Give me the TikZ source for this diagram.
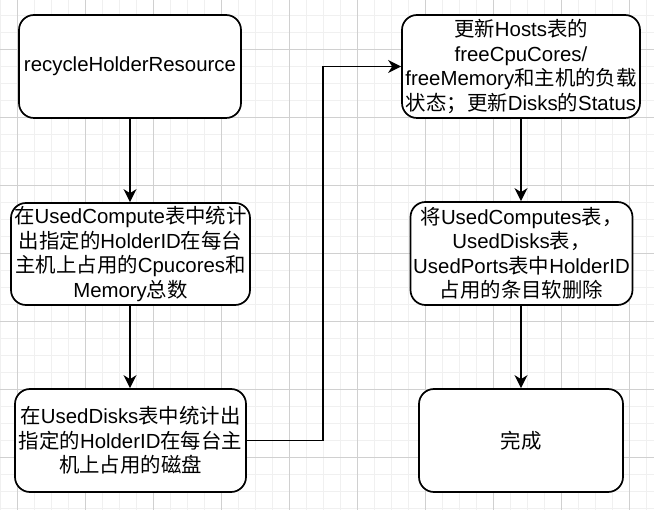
\documentclass[tikz,border=0pt]{standalone}
\usepackage{fontspec}
\setmainfont{Liberation Sans}
\newfontfamily\zh{Noto Sans CJK SC}
\usetikzlibrary{arrows.meta}
\definecolor{gminor}{HTML}{F0F0F0}
\definecolor{gmajor}{HTML}{D0D0D0}
\begin{document}
\begin{tikzpicture}[x=1pt,y=-1pt,
  box/.style={draw=black,line width=1.7pt,rounded corners=15pt,fill=white,
    align=center,inner sep=0pt,minimum height=103pt,
    font=\fontsize{20.4}{24.4}\selectfont},
  arr/.style={draw=black,line width=1.7pt,-{Stealth[length=13pt,width=13pt,inset=4pt]}}]
\useasboundingbox (0,0) rectangle (654,510);
\fill[white] (0,0) rectangle (654,510);
% grid
\foreach \i in {0,...,38} {
  \pgfmathsetmacro{\xx}{0.3+17*\i}
  \draw[gminor,line width=1pt] (\xx,0) -- (\xx,510);
}
\foreach \i in {1,...,30} {
  \pgfmathsetmacro{\yy}{-1.7+17*\i}
  \draw[gminor,line width=1pt] (0,\yy) -- (654,\yy);
}
\foreach \i in {0,...,9} {
  \pgfmathsetmacro{\xx}{17.3+68*\i}
  \draw[gmajor,line width=1pt] (\xx,0) -- (\xx,510);
}
\foreach \i in {0,...,6} {
  \pgfmathsetmacro{\yy}{49.3+68*\i}
  \draw[gmajor,line width=1pt] (0,\yy) -- (654,\yy);
}
% nodes
\node[box,minimum width=222pt] (A) at (130,66.5) {recycleHolderResource};
\node[box,minimum width=239pt,minimum height=102pt] (B) at (130.5,254)
  {{\zh 在}UsedCompute{\zh 表中统计}\\{\zh 出指定的}HolderID{\zh 在每台}\\{\zh 主机上占用的}Cpucores{\zh 和}\\Memory{\zh 总数}};
\node[box,minimum width=231pt] (C) at (130.5,440.5)
  {{\zh 在}UsedDisks{\zh 表中统计出}\\{\zh 指定的}HolderID{\zh 在每台主}\\{\zh 机上占用的磁盘}};
\node[box,minimum width=238pt] (D) at (521,66.5)
  {{\zh 更新}Hosts{\zh 表的}\\freeCpuCores/\\freeMemory{\zh 和主机的负载}\\{\zh 状态；更新}Disks{\zh 的}Status};
\node[box,minimum width=222pt] (E) at (521.5,253.5)
  {{\zh 将}UsedComputes{\zh 表，}\\UsedDisks{\zh 表，}\\UsedPorts{\zh 表中}HolderID\\{\zh 占用的条目软删除}};
\node[box,minimum width=204pt] (F) at (521,440.5) {{\zh 完成}};
% connectors
\coordinate (k) at (323.3,440.5);
\draw[arr] (A.south) -- (A.south |- B.north);
\draw[arr] (B.south -| A.south) -- (A.south |- C.north);
\draw[arr] (C.east) -- (k) |- (D.west);
\draw[arr] (D.south) -- (D.south |- E.north);
\draw[arr] (D.south |- E.south) -- (D.south |- F.north);
\end{tikzpicture}
\end{document}
